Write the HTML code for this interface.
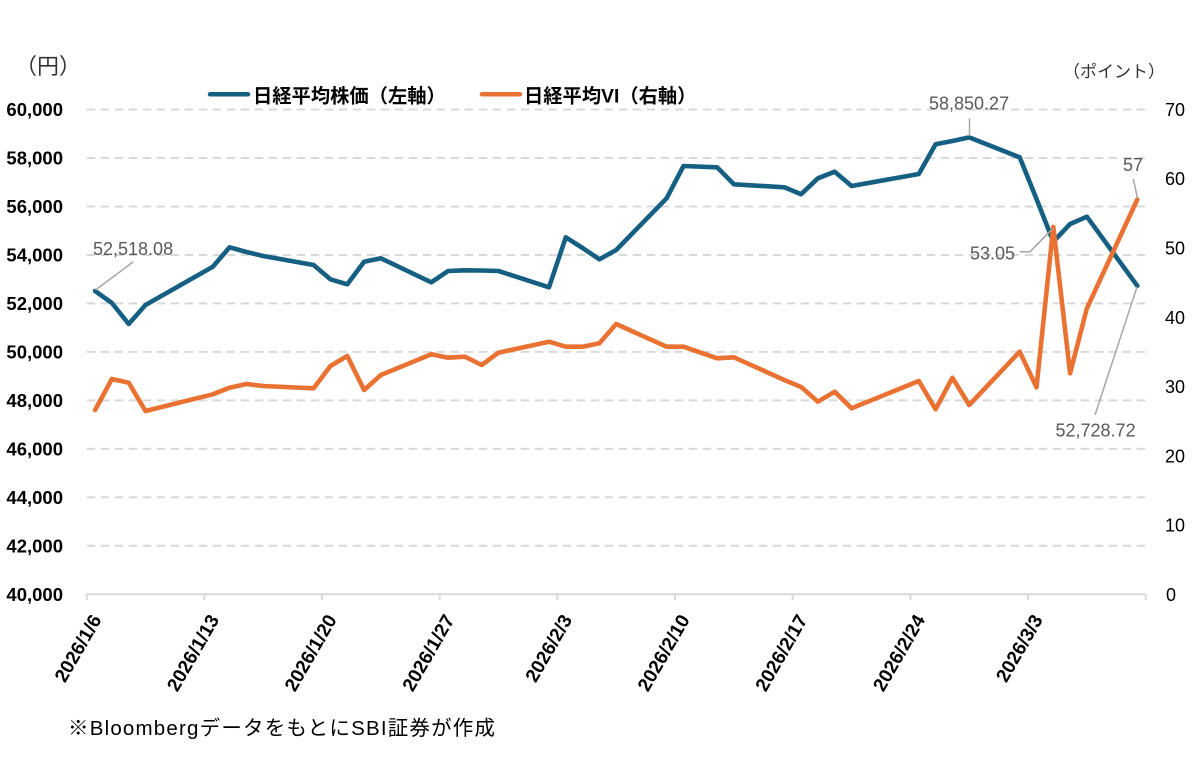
<!DOCTYPE html>
<html><head><meta charset="utf-8">
<style>
html,body{margin:0;padding:0;background:#fff;}
svg{display:block;}
text{font-family:"Liberation Sans","Noto Sans CJK JP",sans-serif;}
</style></head>
<body>
<svg width="1200" height="775" viewBox="0 0 1200 775" xmlns="http://www.w3.org/2000/svg">
<rect width="1200" height="775" fill="#fff"/>
<!-- gridlines -->
<g stroke="#d9d9d9" stroke-width="2" stroke-dasharray="8.5 5.5">
<line x1="86.7" x2="1145.7" y1="545.8" y2="545.8"/>
<line x1="86.7" x2="1145.7" y1="497.3" y2="497.3"/>
<line x1="86.7" x2="1145.7" y1="448.9" y2="448.9"/>
<line x1="86.7" x2="1145.7" y1="400.4" y2="400.4"/>
<line x1="86.7" x2="1145.7" y1="351.9" y2="351.9"/>
<line x1="86.7" x2="1145.7" y1="303.4" y2="303.4"/>
<line x1="86.7" x2="1145.7" y1="255" y2="255"/>
<line x1="86.7" x2="1145.7" y1="206.5" y2="206.5"/>
<line x1="86.7" x2="1145.7" y1="158" y2="158"/>
<line x1="86.7" x2="1145.7" y1="109.5" y2="109.5"/>
</g>
<!-- axis -->
<g stroke="#d9d9d9" stroke-width="2">
<line x1="86.7" x2="1145.7" y1="594.3" y2="594.3"/>
<line x1="86.7" x2="86.7" y1="594" y2="600"/>
<line x1="204.4" x2="204.4" y1="594" y2="600"/>
<line x1="322" x2="322" y1="594" y2="600"/>
<line x1="439.7" x2="439.7" y1="594" y2="600"/>
<line x1="557.4" x2="557.4" y1="594" y2="600"/>
<line x1="675" x2="675" y1="594" y2="600"/>
<line x1="792.7" x2="792.7" y1="594" y2="600"/>
<line x1="910.4" x2="910.4" y1="594" y2="600"/>
<line x1="1028" x2="1028" y1="594" y2="600"/>
<line x1="1145.7" x2="1145.7" y1="594" y2="600"/>
</g>
<!-- left axis labels -->
<g font-size="18.5" font-weight="bold" fill="#000" text-anchor="end">
<text x="63" y="601">40,000</text>
<text x="63" y="552.5">42,000</text>
<text x="63" y="504">44,000</text>
<text x="63" y="455.6">46,000</text>
<text x="63" y="407.1">48,000</text>
<text x="63" y="358.6">50,000</text>
<text x="63" y="310.1">52,000</text>
<text x="63" y="261.7">54,000</text>
<text x="63" y="213.2">56,000</text>
<text x="63" y="164.7">58,000</text>
<text x="63" y="116.2">60,000</text>
</g>
<!-- right axis labels -->
<g font-size="18" fill="#000" text-anchor="start">
<text x="1166" y="600.8">0</text>
<text x="1165" y="531.5">10</text>
<text x="1165" y="462.3">20</text>
<text x="1165" y="393">30</text>
<text x="1165" y="323.8">40</text>
<text x="1165" y="254.5">50</text>
<text x="1165" y="185.2">60</text>
<text x="1165" y="116">70</text>
</g>
<!-- unit labels -->
<text x="15" y="74" font-size="22" fill="#333">（円）</text>
<text x="1063" y="77.5" font-size="17" fill="#333">（ポイント）</text>
<!-- x labels -->
<g font-size="19" font-weight="bold" fill="#000" text-anchor="end">
<text transform="translate(102,619.5) rotate(-60)">2026/1/6</text>
<text transform="translate(219.7,619.5) rotate(-60)">2026/1/13</text>
<text transform="translate(337.3,619.5) rotate(-60)">2026/1/20</text>
<text transform="translate(455,619.5) rotate(-60)">2026/1/27</text>
<text transform="translate(572.7,619.5) rotate(-60)">2026/2/3</text>
<text transform="translate(690.3,619.5) rotate(-60)">2026/2/10</text>
<text transform="translate(808,619.5) rotate(-60)">2026/2/17</text>
<text transform="translate(925.7,619.5) rotate(-60)">2026/2/24</text>
<text transform="translate(1043.3,619.5) rotate(-60)">2026/3/3</text>
</g>
<!-- legend -->
<line x1="210" x2="248" y1="94.3" y2="94.3" stroke="#156082" stroke-width="4.5" stroke-linecap="round"/>
<text x="253" y="102.5" font-size="19.3" font-weight="bold" fill="#000">日経平均株価（左軸）</text>
<line x1="482" x2="520" y1="94.3" y2="94.3" stroke="#E97132" stroke-width="4.5" stroke-linecap="round"/>
<text x="524" y="102.5" font-size="19.3" font-weight="bold" fill="#000">日経平均VI（右軸）</text>
<!-- Nikkei series -->
<polyline fill="none" stroke="#156082" stroke-width="4.6" stroke-linejoin="round" stroke-linecap="round" points="
95.1,291 111.9,303 128.7,324 145.5,305 212.8,266.7 229.6,247.3 246.4,252 263.2,256 313.6,265 330.4,279.3 347.3,284.3 364.1,261.7 380.9,258.3 431.3,282.3 448.1,271 464.9,270.3 481.7,270.5 498.5,271 549,287.3 565.8,237.3 582.6,248 599.4,259.3 616.2,250 666.6,198.3 683.5,166 717.1,167.3 733.9,184.3 784.3,187.3 801.1,194.2 817.9,178.3 834.7,171.7 851.6,186 918.8,174 935.6,144.3 952.4,141 969.2,137.4 1019.7,157.3 1036.5,199 1053.3,241.7 1070.1,224 1086.9,216.7 1137.3,285.8"/>
<!-- VI series -->
<polyline fill="none" stroke="#E97132" stroke-width="4.6" stroke-linejoin="round" stroke-linecap="round" points="
95.1,410 111.9,379 128.7,382.7 145.5,411 212.8,394.3 229.6,387.7 246.4,384 263.2,386 313.6,388.3 330.4,366 347.3,356 364.1,390 380.9,375 431.3,354.3 448.1,357.7 464.9,356.7 481.7,365 498.5,352.7 549,341.7 565.8,346.7 582.6,346.7 599.4,343.3 616.2,324 666.6,346.7 683.5,346.7 717.1,358.3 733.9,357.3 784.3,380 801.1,387 817.9,401.7 834.7,391.7 851.6,408.3 918.8,381 935.6,409.3 952.4,377.7 969.2,405 1019.7,351.7 1036.5,387.3 1053.3,226.9 1070.1,373.3 1086.9,308.3 1137.3,199.5"/>
<!-- leader lines -->
<g stroke="#a6a6a6" stroke-width="1.5" fill="none">
<line x1="95.5" y1="290" x2="133.3" y2="261.7"/>
<line x1="969.5" y1="136" x2="969.5" y2="118.3"/>
<line x1="1137.5" y1="198" x2="1133.3" y2="179"/>
<polyline points="1053,228.3 1030,251.7 1020,251.7"/>
<line x1="1137" y1="287" x2="1095" y2="415"/>
</g>
<!-- annotations -->
<g font-size="18" fill="#595959">
<text x="93" y="255">52,518.08</text>
<text x="929" y="109.5">58,850.27</text>
<text x="1123" y="171">57</text>
<text x="970" y="259.3">53.05</text>
<text x="1055.5" y="436.7">52,728.72</text>
</g>
<!-- footer -->
<text x="68" y="735" font-size="20.5" fill="#000" textLength="427" lengthAdjust="spacing">※BloombergデータをもとにSBI証券が作成</text>
</svg>
</body></html>
